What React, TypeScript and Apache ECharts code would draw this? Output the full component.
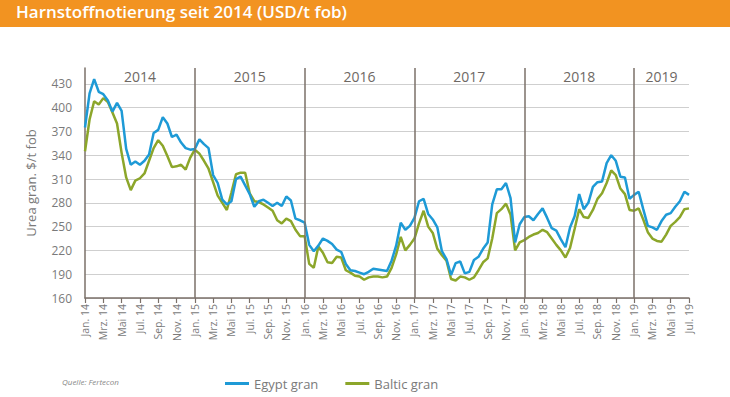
import React, { useEffect, useRef } from "react";
import * as echarts from "echarts";

// Half-monthly samples from Jan 2014 (1st half) to Jul 2019 (1st half)
const years = [2014, 2015, 2016, 2017, 2018, 2019];
const monthAbbr = ["Jan.", "Feb.", "Mrz.", "Apr.", "Mai", "Jun.", "Jul.", "Aug.", "Sep.", "Okt.", "Nov.", "Dez."];
const yearLabels = ["2014", "2015", "2016", "2017", "2018", "2019"];

const egypt = [
  375, 418, 436, 420, 417, 409, 395, 406, 396, 348,
  328, 332, 328, 333, 341, 368, 372, 388, 380, 363,
  366, 356, 349, 347, 348, 360, 354, 349, 315, 305,
  284, 278, 282,
  310, 313, 302, 291, 275, 282, 284, 280, 276, 280,
  276, 288, 283, 260, 258, 255, 227, 219, 226, 235,
  232, 228, 221, 218, 203, 195, 194, 192, 190, 193,
  197, 196, 195, 194,
  207, 226, 255, 246, 251, 261, 282, 285, 266, 259,
  249, 219, 209, 189, 204, 206, 191, 193, 208, 212,
  222, 230, 278, 297, 297, 305, 286, 230, 253, 262,
  263, 258,
  266, 273, 261, 248, 245, 234, 224, 249, 263, 291,
  272, 280, 300, 306, 307, 330, 340, 333, 313, 312,
  285, 290, 294, 272, 251, 249, 246, 257, 265, 267,
  275, 282, 294, 290,
];

const baltic = [
  345, 385, 408, 404, 412, 407, 394, 380, 343, 312,
  296, 308, 311, 317, 333, 349, 359, 352, 339, 325,
  326, 328, 322, 337, 347, 342, 333, 323, 306, 289,
  280, 271, 293,
  316, 318, 318, 292, 282, 281, 278, 274, 270, 258,
  254, 260, 257, 246, 238, 238, 203, 198, 225, 217,
  205, 204, 212, 211, 195, 192, 188, 187, 183, 186,
  187, 187, 186, 187,
  198, 215, 237, 220, 227, 235, 254, 270, 250, 242,
  222, 214, 207, 184, 182, 187, 186, 183, 186, 195,
  205, 210, 235, 267, 272, 279, 265, 220, 230, 233,
  237, 240,
  242, 246, 243, 235, 227, 220, 211, 223, 247, 272,
  262, 261, 271, 285, 292, 305, 321, 315, 298, 291,
  271, 270, 273, 259, 243, 235, 232, 231, 240, 251,
  256, 262, 272, 273,
];

const categories: string[] = [];
for (const y of years) {
  for (let m = 0; m < 12; m++) {
    if (y === 2019 && m > 6) break;
    const mm = String(m + 1).padStart(2, "0");
    categories.push(`${y}-${mm}-a`);
    if (!(y === 2019 && m === 6)) categories.push(`${y}-${mm}-b`);
  }
}

const BLUE = "#1E9AD6";
const GREEN = "#8CA62A";
const AXIS = "#7B7069";
const TEXT = "#7A7A7A";

export default function App() {
  const ref = useRef<HTMLDivElement>(null);
  useEffect(() => {
    if (!ref.current) return;
    const chart = echarts.init(ref.current, undefined, { renderer: "svg" });
    const yearStarts = years.map((y) => `${y}-01-a`);
    const last = categories[categories.length - 1];
    chart.setOption({
      animation: false,
      backgroundColor: "#ffffff",
      grid: { left: 85, right: 41, top: 68, bottom: 99 },
      graphic: [
        { type: "rect", left: 0, top: 0, shape: { width: 730, height: 27 }, style: { fill: "#F29321" } },
        {
          type: "text", left: 16, top: 3,
          style: { text: "Harnstoffnotierung seit 2014 (USD/t fob)", fill: "#ffffff", font: "600 17px 'Open Sans'" },
        },
        {
          type: "text", left: 62, top: 377,
          style: { text: "Quelle: Fertecon", fill: "#888888", font: "italic 8px 'Open Sans'" },
        },
      ],
      legend: {
        left: 220, top: 372,
        icon: "rect", itemWidth: 24, itemHeight: 3, itemGap: 27,
        textStyle: { color: TEXT, fontSize: 13, fontFamily: "Open Sans" },
        data: ["Egypt gran", "Baltic gran"],
      },
      xAxis: {
        type: "category",
        data: categories,
        boundaryGap: false,
        axisLine: { lineStyle: { color: AXIS, width: 1.5 } },
        axisTick: { interval: 3, length: 5, lineStyle: { color: AXIS, width: 1.2 } },
        axisLabel: {
          interval: 3, rotate: 90, margin: 6, color: TEXT, fontSize: 10.5, fontFamily: "Open Sans",
          formatter: (v: string) => {
            const [y, m] = v.split("-");
            return `${monthAbbr[parseInt(m, 10) - 1]} ${y.slice(2)}`;
          },
        },
        splitLine: { show: false },
      },
      yAxis: {
        type: "value",
        min: 160, max: 450, interval: 30,
        name: "Urea gran. $/t fob",
        nameLocation: "middle",
        nameGap: 48,
        nameTextStyle: { color: TEXT, fontSize: 13, fontFamily: "Open Sans" },
        axisLine: { show: true, lineStyle: { color: AXIS, width: 1.5 } },
        axisTick: { show: false },
        axisLabel: { color: TEXT, fontSize: 12, margin: 13, fontFamily: "Open Sans", showMaxLabel: false },
        splitLine: { show: true, showMaxLine: false, lineStyle: { color: "#CFCFCF", width: 1 } },
      },
      series: [
        {
          name: "Egypt gran", type: "line", data: egypt, showSymbol: false, symbol: "none",
          lineStyle: { color: BLUE, width: 2.5 }, itemStyle: { color: BLUE }, z: 3,
          markLine: {
            silent: true, symbol: "none", label: { show: false },
            lineStyle: { color: AXIS, width: 1.5, type: "solid" },
            data: yearStarts.slice(1).map((c) => ({ xAxis: c })),
          },
        },
        {
          name: "Baltic gran", type: "line", data: baltic, showSymbol: false, symbol: "none",
          lineStyle: { color: GREEN, width: 2.5 }, itemStyle: { color: GREEN }, z: 2,
          markArea: {
            silent: true,
            itemStyle: { color: "rgba(0,0,0,0)" },
            label: { show: true, position: "insideTop", distance: 1, color: "#6E6864", fontSize: 14, fontFamily: "Open Sans" },
            data: yearStarts.map((c, i) => [
              { xAxis: c, name: yearLabels[i] },
              { xAxis: i < yearStarts.length - 1 ? yearStarts[i + 1] : last },
            ]),
          },
        },
      ],
    });
    return () => chart.dispose();
  }, []);
  return <div ref={ref} style={{ position: "fixed", left: 0, top: 0, width: 730, height: 397 }} />;
}
